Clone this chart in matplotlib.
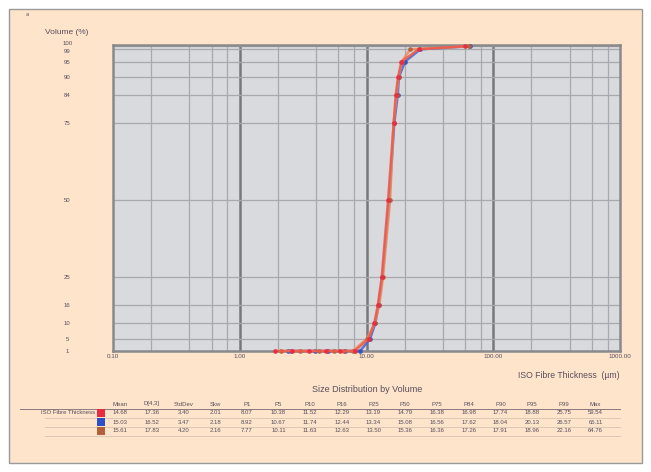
import numpy as np
import matplotlib.pyplot as plt
import matplotlib.transforms as mtransforms
from matplotlib.patches import Rectangle

plt.rcParams['font.family'] = ['Liberation Sans', 'DejaVu Sans']

W, H = 651, 472

# Data =============================================
pct_levels = [1, 5, 10, 16, 25, 50, 75, 84, 90, 95, 99, 100]
tail_vol = [1, 1, 1, 1, 1]

columns = ["Mean", "D[4,3]", "StdDev", "Skw", "P1", "P5", "P10", "P16",
           "P25", "P50", "P75", "P84", "P90", "P95", "P99", "Max"]

stats_red = [14.68, 17.36, 3.40, 2.01]
pct_red = [8.07, 10.38, 11.52, 12.29, 13.19, 14.79, 16.38, 16.98, 17.74, 18.88, 25.75, 59.54]
tail_red = [1.9, 2.6, 3.5, 4.8, 6.2]

stats_blue = [15.03, 16.52, 3.47, 2.18]
pct_blue = [8.92, 10.67, 11.74, 12.44, 13.34, 15.08, 16.56, 17.62, 18.04, 20.13, 26.57, 65.11]
tail_blue = [2.4, 2.55, 3.9, 5.0, 6.8]

stats_brown = [15.61, 17.83, 4.20, 2.16]
pct_brown = [7.77, 10.11, 11.63, 12.63, 13.50, 15.36, 16.36, 17.26, 17.91, 18.96, 22.16, 64.76]
tail_brown = [2.1, 3.0, 4.2, 5.5, 6.6]

# (name, table colour, line colour, stats, percentiles, tail)
series = [
    ("blue", "#2f50c4", "#4a62d0", stats_blue, pct_blue, tail_blue),
    ("brown", "#b4603c", "#f08a5a", stats_brown, pct_brown, tail_brown),
    ("red", "#e82c40", "#ee5a4c", stats_red, pct_red, tail_red),
]
table_order = [series[2], series[0], series[1]]

y_ticks = [1, 5, 10, 16, 25, 50, 75, 84, 90, 95, 99, 100]
x_ticks = [0.1, 1, 10, 100, 1000]
x_ticklabels = ["0.10", "1.00", "10.00", "100.00", "1000.00"]

txt_col = "#5a4d5e"
peach = "#fde4ca"


def fx(x):
    return x / W


def fy(y):
    return 1 - y / H


# Figure =============================================
fig = plt.figure(figsize=(W / 100, H / 100), dpi=100)
fig.patch.set_facecolor("white")
fig.patches.append(Rectangle((fx(9), fy(463)), (642 - 9) / W, (463 - 9) / H,
                             transform=fig.transFigure, facecolor=peach,
                             edgecolor="#9a9a9a", linewidth=1.0, zorder=-5))

ax = fig.add_axes([fx(113), fy(351), (620 - 113) / W, (351 - 45) / H])
ax.set_zorder(1)
ax.set_facecolor("#d9dadd")
ax.set_xscale("log")
ax.set_xlim(0.1, 1000)
ax.set_ylim(1, 100.4)

# grid
for dec in [0.1, 1, 10, 100]:
    for m in [2, 4, 6, 8]:
        ax.axvline(dec * m, color="#a9a9ab", lw=0.9, zorder=1)
for d in [1, 10, 100]:
    ax.axvline(d, color="#78787a", lw=1.8, zorder=1)
for yv in y_ticks:
    ax.axhline(yv, color="#a9a9ab", lw=0.9, zorder=1)

for name, tcol, lcol, st, pc, tl in series:
    xs = tl + pc
    ys = tail_vol + pct_levels
    ax.plot(xs, ys, color=lcol, lw=1.8, marker="o", ms=2.4, mfc=tcol, mec=tcol,
            alpha=0.85, zorder=3, clip_on=False)

for s in ax.spines.values():
    s.set_color("#8a8a8c")
    s.set_linewidth(1.8)

ax.set_yticks(y_ticks)
ax.set_yticklabels([str(v) for v in y_ticks])
ax.tick_params(axis="y", length=0, pad=33, labelsize=4.3, labelcolor=txt_col)
for lab, v in zip(ax.get_yticklabels(), y_ticks):
    lab.set_horizontalalignment("center")
    if v == 100:
        lab.set_transform(lab.get_transform() + mtransforms.ScaledTranslation(0, 2.5 / 72, fig.dpi_scale_trans))
    if v == 99:
        lab.set_transform(lab.get_transform() + mtransforms.ScaledTranslation(0, -1.5 / 72, fig.dpi_scale_trans))

ax.set_xticks(x_ticks)
ax.set_xticklabels(x_ticklabels)
ax.xaxis.set_minor_locator(plt.NullLocator())
ax.tick_params(axis="x", length=0, pad=2, labelsize=4.5, labelcolor=txt_col)

# Texts =============================================
fig.text(fx(27), fy(15), "a", fontsize=4, color=txt_col, ha="center", va="center")
fig.text(fx(67), fy(33), "Volume (%)", fontsize=6, color=txt_col, ha="center", va="center")
fig.text(fx(620), fy(375), "ISO Fibre Thickness  (µm)", fontsize=6.2, color=txt_col,
         ha="right", va="center")
fig.text(fx(367), fy(390), "Size Distribution by Volume", fontsize=6.5, color=txt_col,
         ha="center", va="center")

# Table =============================================
col_x = [120 + i * 31.7 for i in range(len(columns))]
row_y = [413, 422, 431]
for cx, hd in zip(col_x, columns):
    fig.text(fx(cx), fy(404), hd, fontsize=4.3, color=txt_col, ha="center", va="center")

fig.add_artist(plt.Line2D([fx(20), fx(620)], [fy(409), fy(409)], color="#8a7a80",
                          lw=0.7, transform=fig.transFigure))
for ry in row_y[:2]:
    fig.add_artist(plt.Line2D([fx(45), fx(620)], [fy(ry + 4.5), fy(ry + 4.5)],
                              color="#d8c4b4", lw=0.6, transform=fig.transFigure))
fig.add_artist(plt.Line2D([fx(45), fx(620)], [fy(436), fy(436)],
                          color="#d8c4b4", lw=0.6, transform=fig.transFigure))

fig.text(fx(95), fy(413), "ISO Fibre Thickness", fontsize=4.3, color=txt_col,
         ha="right", va="center")
for ry, (name, tcol, lcol, st, pc, tl) in zip(row_y, table_order):
    fig.patches.append(Rectangle((fx(97), fy(ry + 4)), 8 / W, 8 / H,
                                 transform=fig.transFigure, facecolor=tcol,
                                 edgecolor="none", zorder=2))
    vals = st + pc
    for cx, v in zip(col_x, vals):
        fig.text(fx(cx), fy(ry), f"{v:.2f}", fontsize=4.3, color=txt_col,
                 ha="center", va="center")

plt.savefig("out.png", dpi=100, facecolor=fig.get_facecolor())
